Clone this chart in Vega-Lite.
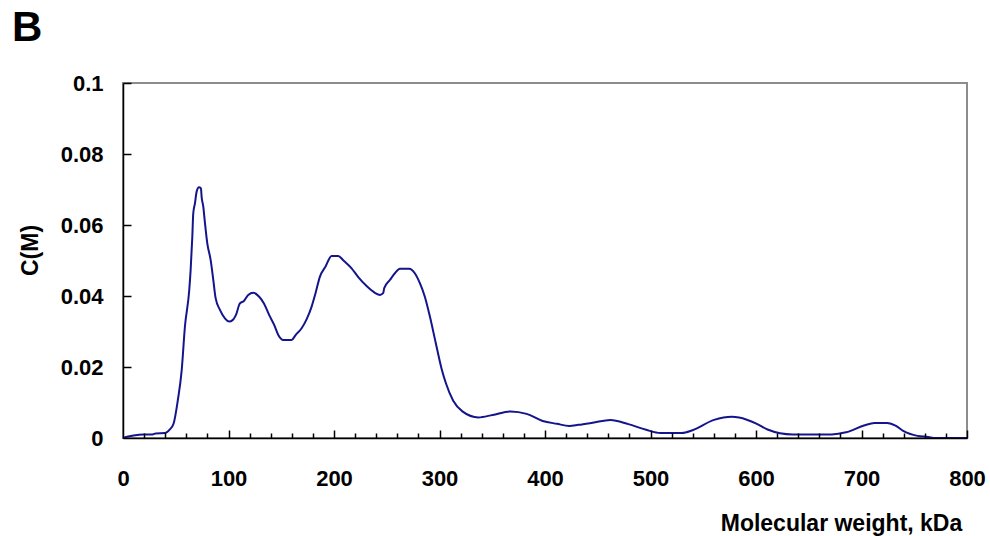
{
  "$schema": "https://vega.github.io/schema/vega-lite/v6.json",
  "autosize": {"type": "none"},
  "width": 844,
  "height": 355,
  "padding": {"left": 123, "top": 83, "right": 23, "bottom": 98},
  "background": "white",
  "title": {
    "text": "B",
    "anchor": "start",
    "frame": "group",
    "dx": -111,
    "offset": 22,
    "font": "Liberation Sans",
    "fontSize": 42,
    "fontWeight": "bold",
    "color": "black"
  },
  "config": {
    "view": {"stroke": "#8c8c8c", "strokeWidth": 2},
    "axis": {
      "labelFont": "Liberation Sans",
      "labelFontWeight": "bold",
      "labelFontSize": 22,
      "labelColor": "black",
      "titleFont": "Liberation Sans",
      "titleFontWeight": "bold",
      "titleFontSize": 23,
      "titleColor": "black",
      "domainColor": "black",
      "domainWidth": 1.5,
      "grid": false
    }
  },
  "data": {
    "values": [
      {"mw": 0, "c": 0},
      {"mw": 5, "c": 0.0004},
      {"mw": 10, "c": 0.0007},
      {"mw": 19, "c": 0.001},
      {"mw": 28, "c": 0.001},
      {"mw": 31, "c": 0.0013},
      {"mw": 40, "c": 0.0014},
      {"mw": 44, "c": 0.0023},
      {"mw": 48, "c": 0.0041},
      {"mw": 52, "c": 0.0107},
      {"mw": 55.6, "c": 0.019},
      {"mw": 58.7, "c": 0.0314},
      {"mw": 62.8, "c": 0.0417},
      {"mw": 64.1, "c": 0.0473},
      {"mw": 65.7, "c": 0.0567},
      {"mw": 66.6, "c": 0.0633},
      {"mw": 68.2, "c": 0.0661},
      {"mw": 69.8, "c": 0.0694},
      {"mw": 72, "c": 0.0706},
      {"mw": 73.9, "c": 0.0703},
      {"mw": 74.5, "c": 0.068},
      {"mw": 76.1, "c": 0.0652},
      {"mw": 77.7, "c": 0.0605},
      {"mw": 79.9, "c": 0.0548},
      {"mw": 83.1, "c": 0.0501},
      {"mw": 85.6, "c": 0.0445},
      {"mw": 87.8, "c": 0.0394},
      {"mw": 91.9, "c": 0.0361},
      {"mw": 96.6, "c": 0.0337},
      {"mw": 100.7, "c": 0.0328},
      {"mw": 103.9, "c": 0.0332},
      {"mw": 107, "c": 0.0346},
      {"mw": 110.8, "c": 0.0379},
      {"mw": 114.6, "c": 0.0386},
      {"mw": 118.7, "c": 0.0403},
      {"mw": 123.5, "c": 0.0409},
      {"mw": 129.1, "c": 0.0398},
      {"mw": 133.6, "c": 0.0379},
      {"mw": 138.6, "c": 0.0346},
      {"mw": 143.4, "c": 0.0318},
      {"mw": 147.2, "c": 0.029},
      {"mw": 151.9, "c": 0.0276},
      {"mw": 159.8, "c": 0.0276},
      {"mw": 163.6, "c": 0.029},
      {"mw": 169.3, "c": 0.0309},
      {"mw": 174, "c": 0.0334},
      {"mw": 178.8, "c": 0.037},
      {"mw": 182.5, "c": 0.0408},
      {"mw": 186.6, "c": 0.0454},
      {"mw": 192, "c": 0.0483},
      {"mw": 197.7, "c": 0.0513},
      {"mw": 204, "c": 0.0513},
      {"mw": 208.7, "c": 0.0501},
      {"mw": 216.7, "c": 0.0478},
      {"mw": 223, "c": 0.0453},
      {"mw": 230.9, "c": 0.0428},
      {"mw": 238.8, "c": 0.0409},
      {"mw": 243.5, "c": 0.0403},
      {"mw": 246.6, "c": 0.0408},
      {"mw": 247.6, "c": 0.0422},
      {"mw": 253, "c": 0.0445},
      {"mw": 257.7, "c": 0.0464},
      {"mw": 262.4, "c": 0.0477},
      {"mw": 271.3, "c": 0.0477},
      {"mw": 276.6, "c": 0.0464},
      {"mw": 281.4, "c": 0.0436},
      {"mw": 286.1, "c": 0.0398},
      {"mw": 290.9, "c": 0.0342},
      {"mw": 296.5, "c": 0.0267},
      {"mw": 301.9, "c": 0.0196},
      {"mw": 306, "c": 0.0155},
      {"mw": 313, "c": 0.0105},
      {"mw": 321.7, "c": 0.0075},
      {"mw": 336.9, "c": 0.0058},
      {"mw": 350.4, "c": 0.0065},
      {"mw": 367.3, "c": 0.0075},
      {"mw": 382.6, "c": 0.0068},
      {"mw": 397.8, "c": 0.0048},
      {"mw": 411.3, "c": 0.004},
      {"mw": 423.1, "c": 0.0034},
      {"mw": 431.6, "c": 0.0037},
      {"mw": 445.2, "c": 0.0043},
      {"mw": 462, "c": 0.0051},
      {"mw": 479, "c": 0.0039},
      {"mw": 495.9, "c": 0.0023},
      {"mw": 509.4, "c": 0.0014},
      {"mw": 529.7, "c": 0.0014},
      {"mw": 539.9, "c": 0.0022},
      {"mw": 560.2, "c": 0.0051},
      {"mw": 577.1, "c": 0.006},
      {"mw": 583.9, "c": 0.0058},
      {"mw": 600.8, "c": 0.004},
      {"mw": 610.9, "c": 0.0024},
      {"mw": 634.6, "c": 0.001},
      {"mw": 671.8, "c": 0.001},
      {"mw": 685.4, "c": 0.0016},
      {"mw": 702.3, "c": 0.0035},
      {"mw": 712.4, "c": 0.0042},
      {"mw": 724.3, "c": 0.0042},
      {"mw": 732.7, "c": 0.0034},
      {"mw": 739.5, "c": 0.002},
      {"mw": 753.1, "c": 0.0006},
      {"mw": 763.2, "c": 0.0003},
      {"mw": 770, "c": 0},
      {"mw": 800, "c": 0}
    ]
  },
  "resolve": {"axis": {"x": "independent", "y": "independent"}},
  "layer": [
    {
      "mark": {"type": "line", "strokeOpacity": 0},
      "encoding": {
        "x": {
          "field": "mw", "type": "quantitative",
          "scale": {"domain": [0, 800], "nice": false, "zero": false},
          "axis": {
            "orient": "bottom", "offset": -5, "domain": false, "labels": false, "title": null,
            "ticks": true, "tickSize": 5, "tickColor": "black", "tickWidth": 1.5, "tickOpacity": 1, "zindex": 2,
            "values": [20, 40, 60, 80, 120, 140, 160, 180, 220, 240, 260, 280, 320, 340, 360, 380, 420, 440, 460, 480, 520, 540, 560, 580, 620, 640, 660, 680, 720, 740, 760, 780]
          }
        },
        "y": {
          "field": "c", "type": "quantitative",
          "scale": {"domain": [0, 0.1], "nice": false, "zero": false},
          "axis": {
            "orient": "left", "offset": -8, "domain": false, "labels": false, "title": null,
            "ticks": true, "tickSize": 8, "tickColor": "black", "tickWidth": 1.5, "tickOpacity": 1, "zindex": 2,
            "values": [0.02, 0.04, 0.06, 0.08, 0.1]
          }
        }
      }
    },
    {
      "mark": {"type": "line", "strokeOpacity": 0},
      "encoding": {
        "x": {
          "field": "mw", "type": "quantitative",
          "scale": {"domain": [0, 800], "nice": false, "zero": false},
          "axis": {
            "orient": "bottom", "offset": -8, "domain": false, "labels": false, "title": null,
            "ticks": true, "tickSize": 8, "tickColor": "black", "tickWidth": 1.5, "tickOpacity": 1, "zindex": 2,
            "values": [100, 200, 300, 400, 500, 600, 700, 800]
          }
        },
        "y": {"field": "c", "type": "quantitative", "axis": null}
      }
    },
    {
      "mark": {"type": "line", "color": "#14148c", "strokeWidth": 2, "interpolate": "monotone"},
      "encoding": {
        "x": {
          "field": "mw",
          "type": "quantitative",
          "scale": {"domain": [0, 800], "nice": false, "zero": false},
          "axis": {
            "orient": "bottom",
            "title": "Molecular weight, kDa",
            "values": [0, 100, 200, 300, 400, 500, 600, 700, 800],
            "format": "d",
            "ticks": false,
            "zindex": 1,
            "labelPadding": 30,
            "labelOverlap": false,
            "labelFlush": false,
            "titleX": 718,
            "titleY": 92,
            "titleAlign": "center",
            "titleBaseline": "alphabetic"
          }
        },
        "y": {
          "field": "c",
          "type": "quantitative",
          "scale": {"domain": [0, 0.1], "nice": false, "zero": false},
          "axis": {
            "orient": "left",
            "title": "C(M)",
            "values": [0, 0.02, 0.04, 0.06, 0.08, 0.1],
            "format": "~g",
            "ticks": false,
            "zindex": 1,
            "labelPadding": 20,
            "labelFlush": false,
            "titleX": -81,
            "titleY": 167,
            "titleAngle": -90,
            "titleAlign": "center",
            "titleBaseline": "bottom"
          }
        }
      }
    }
  ]
}
